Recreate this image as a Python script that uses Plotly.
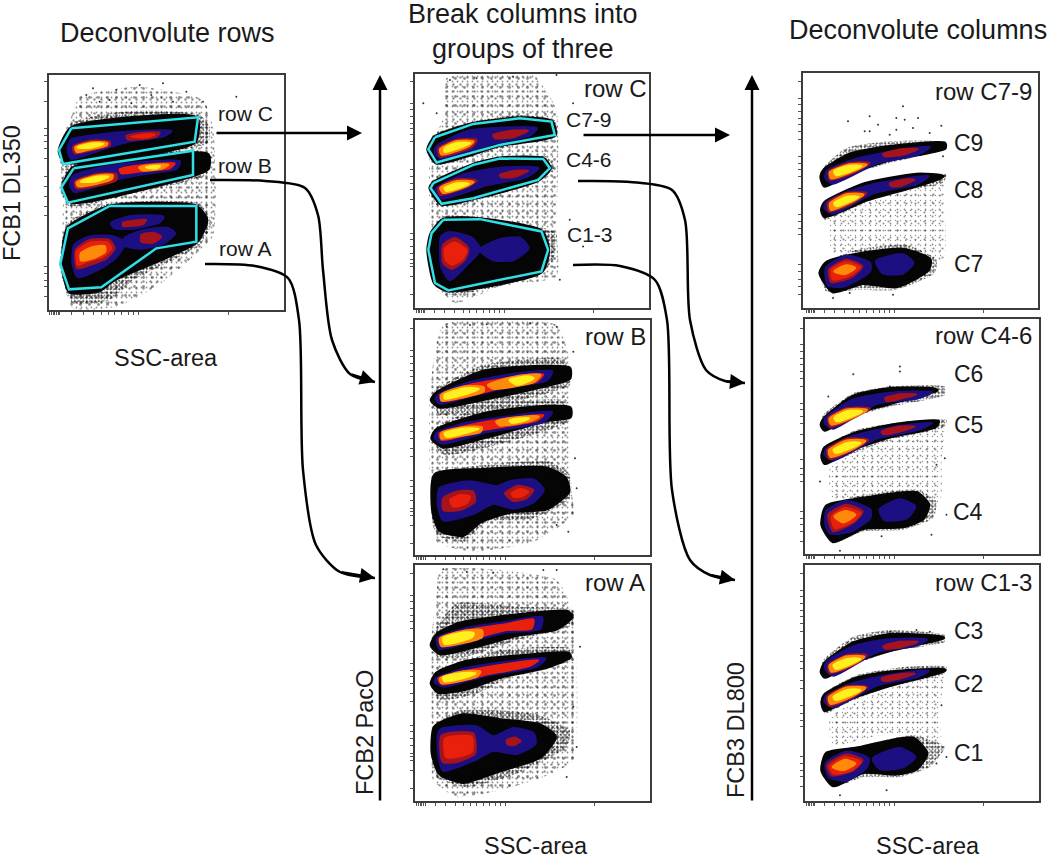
import plotly.graph_objects as go

W, H = 1050, 865

# ---- panel frames in figure pixels (left, right, top, bottom), and axis ranges in event-scale units
p1_box = (49, 284, 75, 310)
p2_box = (415, 649, 74, 308)
p3_box = (415, 650, 320, 555)
p4_box = (415, 650, 565, 801)
p5_box = (803, 1038, 73, 308)
p6_box = (805, 1039, 319, 554)
p7_box = (805, 1039, 565, 801)

p1_range = (148, 853, 750, 45)
p2_range = (45, 748, 745, 42)
p3_range = (45, 750, 720, 15)
p4_range = (45, 750, 722, 15)
p5_range = (40, 745, 745, 40)
p6_range = (45, 748, 718, 12)
p7_range = (45, 748, 722, 15)

xticks_p1 = [150,155,160,165,170,175,180,215,250,280,305,325,345,365,385,400,415,685]
xticks_rest = [50,55,60,65,70,75,105,135,165,190,210,230,250,268,285,300,315,582]
yticks_p1 = [65,125,205,225,245,265,295,350,380,410,440,465,620,640,660,680,710]
yticks_p2 = [65,130,150,170,190,205,225,245,330,350,370,390,420,445,520,540,560,580,600,610,620,650,705]
yticks_p3 = [40,105,125,145,165,185,205,245,310,330,350,370,400,425,495,515,535,555,580,590,600,630,685]
yticks_p5 = [65,115,135,155,175,195,215,240,290,310,330,350,385,410,465,485,505,525,615,635,660,680,705]
yticks_p6 = [40,90,110,130,150,170,190,215,265,285,305,325,360,385,435,460,480,500,590,610,630,650,680]

# ---- density regions of each panel
p1_sparse = [[(240,110),(420,80),(610,120),(640,200),(640,530),(570,600),(470,680),(350,740),(220,745),(190,660),(190,400),(180,260),(215,170)]]
p1_dense = [[(215,190),(300,165),(430,150),(600,165),(630,200),(625,250),(400,290),(190,320),(175,270)],
            [(215,310),(600,270),(635,290),(620,345),(400,400),(210,440),(180,385)],
            [(215,480),(330,430),(600,430),(635,490),(600,555),(400,660),(330,720),(220,730),(180,620),(195,505)]]
p1_black = [[(215,205),(590,175),(585,245),(200,305),(180,275)],
            [(220,325),(580,280),(625,285),(625,325),(580,345),(215,425),(190,385)],
            [(330,440),(590,440),(620,480),(590,545),(340,660),(300,690),(210,695),(190,610),(205,505)]]
p1_navy = [[(215,240),(300,225),(400,215),(515,213),(490,228),(380,245),(300,270),(215,295),(205,265)],
           [(220,350),(300,325),(400,310),(540,305),(530,325),(440,340),(360,355),(225,395),(212,375)],
           [(225,555),(270,530),(340,530),(375,548),(350,590),(310,620),(235,650),(220,610)],
           [(375,535),(440,510),(505,505),(525,520),(490,550),(420,565),(375,555)],
           [(335,490),(390,470),(490,470),(480,485),(400,505),(345,503)]]
p1_crimson = [[(220,260),(270,242),(330,245),(330,258),(270,272),(225,280)],
              [(380,228),(430,218),(480,218),(470,230),(420,238),(385,238)],
              [(225,365),(290,342),(350,342),(350,360),(230,385)],
              [(228,570),(270,540),(330,540),(345,565),(320,595),(270,615),(232,625)],
              [(425,525),(460,518),(485,530),(460,548),(425,545)],
              [(370,488),(440,480),(430,492),(370,498)]]
p1_red = [[(395,230),(450,222),(465,224),(440,232)],
          [(360,328),(430,315),(525,310),(510,325),(440,332),(365,340)],
          [(232,575),(270,548),(325,548),(335,565),(310,590),(260,605),(235,615)]]
p1_orange = [[(228,262),(275,248),(322,250),(320,255),(270,267),(232,275)],
             [(232,368),(290,348),(338,346),(335,357),(236,378)],
             [(420,322),(470,315),(505,315),(480,326),(430,330)],
             [(245,580),(280,562),(315,560),(315,575),(275,595),(245,600)]]
p1_yellow = [[(235,262),(275,252),(310,252),(270,262)],
             [(245,365),(290,352),(325,350),(290,362)],
             [(440,322),(480,318),(470,324)]]
p1_outliers = [(260,105),(300,125),(350,90),(420,75),(490,70),(610,125),(330,120),(455,105),(560,95),(280,85),(710,110),(395,130),(520,125)]

p2_sparse = [[(140,55),(400,45),(470,150),(470,500),(470,650),(300,680),(170,730),(110,690),(90,500),(90,280),(130,170)]]
p2_dense = [[(100,225),(220,185),(360,165),(465,180),(470,225),(300,265),(110,315),(80,270)],
            [(100,360),(230,310),(440,290),(465,325),(420,360),(220,425),(115,440),(85,385)],
            [(130,470),(430,505),(470,520),(460,600),(420,645),(150,705),(100,670),(85,560)]]
p2_black = [[(105,232),(220,192),(360,175),(455,185),(465,225),(300,255),(110,308),(85,268)],
            [(100,370),(220,315),(300,296),(430,297),(450,325),(415,360),(220,415),(125,432),(92,385)],
            [(130,480),(240,478),(425,515),(445,570),(425,635),(145,692),(105,670),(85,570),(95,520)]]
p2_navy = [[(110,260),(200,215),(300,205),(410,205),(390,225),(280,250),(120,295),(105,275)],
           [(110,385),(190,345),(300,325),(415,325),(380,350),(260,375),(130,415),(105,400)],
           [(125,530),(150,518),(215,535),(240,570),(205,610),(150,660),(125,620)],
           [(240,570),(300,540),(360,535),(385,565),(340,600),(280,600)]]
p2_crimson = [[(115,265),(170,240),(230,240),(215,262),(120,290)],
              [(280,225),(340,212),(385,212),(340,232),(285,235)],
              [(115,385),(170,358),(230,362),(200,382),(120,405)],
              [(300,345),(345,333),(385,333),(340,352),(305,352)],
              [(130,555),(165,535),(205,565),(195,600),(155,628),(130,610)]]
p2_red = [[(135,565),(165,548),(200,572),(185,600),(155,615),(137,600)]]
p2_orange = [[(122,268),(170,245),(220,245),(205,258),(125,283)],
             [(122,385),(170,365),(220,367),(190,382),(130,398)]]
p2_yellow = [[(135,265),(175,250),(210,250),(170,265),(135,275)],
             [(135,385),(170,372),(205,372),(140,392)]]
p2_outliers = [(150,60),(230,55),(340,50),(470,45),(520,130),(510,480),(550,560),(110,160),(480,660),(70,130)]

p3_sparse = [[(130,30),(470,30),(510,140),(510,500),(520,600),(400,680),(220,710),(110,680),(90,500),(90,230)]]
p3_dense = [[(105,225),(250,150),(480,130),(512,160),(510,210),(250,280),(120,300),(92,260)],
            [(105,340),(250,270),(490,255),(512,285),(505,320),(250,400),(130,420),(95,370)],
            [(100,480),(250,450),(450,440),(510,480),(510,550),(400,610),(260,620),(190,680),(110,660),(95,600)]]
p3_black = [[(110,235),(250,170),(440,155),(508,160),(508,190),(440,210),(260,250),(120,275),(95,255)],
            [(110,345),(260,295),(440,275),(510,280),(510,305),(440,315),(260,365),(130,395),(97,370)],
            [(105,480),(250,465),(440,460),(495,490),(505,530),(440,580),(330,590),(240,620),(190,660),(120,645),(100,590)]]
p3_navy = [[(115,240),(200,205),(330,180),(455,170),(440,195),(330,215),(220,240),(120,265),(108,250)],
           [(110,355),(200,325),(330,305),(455,292),(430,320),(260,350),(130,385),(105,370)],
           [(120,520),(210,500),(290,515),(330,500),(400,495),(430,525),(400,560),(340,580),(280,565),(220,595),(130,615),(115,570)]]
p3_crimson = [[(130,550),(170,530),(220,530),(225,560),(180,585),(130,585)],
              [(315,535),(355,512),(400,525),(380,550),(340,558)]]
p3_red = [[(120,240),(200,212),(330,188),(430,178),(410,200),(300,220),(130,258)],
          [(118,355),(200,332),(330,310),(430,300),(410,317),(250,345),(125,375)],
          [(150,555),(180,540),(210,545),(200,565),(160,575)],
          [(335,535),(360,522),(385,530),(365,545),(340,545)]]
p3_orange = [[(125,240),(195,215),(250,218),(250,228),(190,245),(125,256)],
             [(265,210),(350,185),(420,180),(400,200),(280,220)],
             [(125,355),(190,338),(245,338),(240,350),(190,360),(125,370)],
             [(290,320),(350,308),(415,305),(390,317),(300,330)]]
p3_yellow = [[(135,240),(190,222),(235,222),(190,238),(135,250)],
             [(330,195),(385,185),(400,190),(350,208)],
             [(135,355),(190,342),(235,342),(190,354),(140,364)],
             [(330,317),(385,310),(370,316),(335,322)]]
p3_outliers = [(140,35),(210,30),(260,28),(390,25),(470,35),(520,110),(525,430),(530,520),(505,650),(470,630)]

p4_sparse = [[(120,30),(300,30),(470,60),(520,160),(520,600),(430,650),(300,690),(170,710),(100,660),(95,500),(95,230),(110,100)]]
p4_dense = [[(110,200),(170,130),(350,140),(520,150),(515,195),(350,240),(200,290),(110,290),(95,250)],
            [(110,340),(300,270),(510,265),(515,300),(350,340),(230,400),(115,420),(95,370)],
            [(110,490),(180,450),(400,460),(510,510),(500,560),(350,640),(200,680),(110,650),(95,580)]]
p4_black = [[(110,225),(180,190),(360,165),(500,155),(515,170),(470,205),(350,225),(220,260),(120,280),(95,255)],
            [(110,340),(200,305),(400,285),(505,280),(510,290),(440,320),(300,350),(200,385),(115,395),(95,370)],
            [(105,500),(190,465),(300,480),(420,495),(465,530),(420,590),(300,630),(190,665),(120,640),(98,580)]]
p4_navy = [[(112,235),(200,205),(330,185),(425,172),(420,205),(320,215),(240,235),(120,265)],
           [(110,355),(200,325),(330,305),(435,295),(410,318),(260,345),(130,378),(105,365)],
           [(120,510),(230,500),(280,530),(340,505),(400,520),(405,550),(350,580),(280,570),(220,600),(130,630),(115,570)]]
p4_crimson = [[(125,525),(220,520),(225,580),(170,605),(128,605)],
              [(320,540),(345,532),(362,542),(340,555),(322,552)]]
p4_red = [[(118,235),(200,210),(330,190),(400,178),(395,205),(320,210),(240,230),(125,258)],
          [(115,355),(200,332),(330,310),(415,300),(390,317),(250,345),(125,372)],
          [(135,535),(215,530),(215,575),(170,590),(138,590)]]
p4_orange = [[(122,235),(200,212),(245,212),(245,230),(125,256)],
             [(122,355),(190,335),(240,335),(230,348),(125,368)]]
p4_yellow = [[(130,235),(195,218),(220,220),(215,230),(135,250)],
             [(130,352),(190,340),(225,340),(190,352),(135,362)]]
p4_outliers = [(130,28),(200,35),(280,38),(430,30),(470,30),(520,440),(530,560),(500,650),(540,260)]

p5_sparse = [[(120,480),(300,405),(460,350),(465,440),(460,600),(300,560),(130,580)]]
p5_dense = [[(105,320),(170,265),(300,245),(468,248),(465,268),(300,310),(180,345),(105,380),(95,350)],
            [(100,440),(220,370),(400,340),(470,345),(460,370),(300,400),(180,450),(105,480),(95,460)],
            [(105,610),(200,570),(350,555),(440,600),(435,640),(320,690),(200,690),(110,695),(90,640)]]
p5_black = [[(105,330),(180,285),(300,262),(465,252),(465,265),(300,300),(180,340),(105,378),(95,350)],
            [(105,430),(220,375),(380,345),(460,350),(380,378),(230,420),(105,470),(97,450)],
            [(110,610),(200,585),(340,570),(420,600),(415,630),(320,680),(220,670),(130,695),(92,640)]]
p5_navy = [[(112,335),(180,305),(260,285),(420,262),(380,285),(260,310),(130,370),(108,355)],
           [(110,430),(170,400),(250,375),(415,350),(380,372),(250,400),(130,460),(105,445)],
           [(110,625),(170,590),(240,610),(240,635),(160,680),(115,675)],
           [(260,605),(340,585),(370,610),(340,640),(280,640)]]
p5_crimson = [[(118,335),(180,310),(240,310),(190,340),(120,360)],
              [(280,283),(340,268),(385,268),(340,285),(285,290)],
              [(115,430),(170,400),(230,400),(190,430),(118,455)],
              [(300,372),(340,360),(375,360),(335,378),(305,380)],
              [(118,630),(170,600),(218,620),(190,650),(125,668)]]
p5_red = [[(125,630),(170,608),(212,622),(180,648),(130,660)]]
p5_orange = [[(122,338),(180,315),(230,315),(180,338),(125,355)],
             [(122,432),(170,405),(220,405),(180,428),(125,450)],
             [(135,635),(170,618),(195,625),(165,642)]]
p5_yellow = [[(135,335),(180,320),(215,320),(140,345)],
             [(135,430),(175,412),(205,412),(140,438)]]
p5_outliers = [(175,185),(240,170),(340,140),(320,175),(385,175),(455,198),(225,215),(265,195),(320,210),(370,205),(345,180),(240,215),(300,225),(420,220),(460,290),(130,715),(310,705),(180,700)]

p6_sparse = [[(120,460),(300,375),(460,335),(455,440),(450,560),(300,530),(130,560)]]
p6_dense = [[(100,300),(190,235),(300,215),(465,215),(465,240),(300,275),(180,310),(105,350),(93,330)],
            [(100,400),(200,345),(350,320),(470,315),(465,335),(300,375),(180,420),(105,450),(90,430)],
            [(100,580),(200,545),(380,525),(440,560),(430,610),(340,645),(220,650),(130,685),(92,630)]]
p6_black = [[(105,310),(190,245),(300,222),(440,225),(300,265),(180,300),(105,345),(95,330)],
            [(105,400),(200,355),(320,330),(445,320),(435,335),(300,365),(180,405),(105,445),(97,425)],
            [(110,575),(200,555),(380,535),(415,570),(400,610),(340,635),(220,640),(130,680),(97,630)]]
p6_navy = [[(108,310),(190,255),(300,235),(425,232),(380,250),(260,265),(130,340),(105,325)],
           [(108,405),(190,365),(300,340),(425,325),(380,345),(260,370),(130,435),(105,420)],
           [(110,590),(170,560),(240,585),(240,610),(180,650),(120,655),(108,630)],
           [(270,585),(330,555),(375,575),(350,610),(285,615)]]
p6_crimson = [[(115,310),(170,280),(240,280),(190,310),(120,335)],
              [(285,250),(330,238),(380,238),(330,252),(290,258)],
              [(112,405),(170,372),(235,375),(190,405),(118,432)],
              [(275,350),(330,335),(375,335),(330,350),(280,358)],
              [(115,600),(170,570),(218,590),(195,620),(130,650)]]
p6_red = [[(125,605),(165,580),(212,595),(190,620),(135,640)]]
p6_orange = [[(120,312),(170,285),(230,285),(185,308),(125,328)],
             [(118,407),(170,378),(225,378),(185,403),(122,425)],
             [(135,605),(165,590),(195,600),(160,622)]]
p6_yellow = [[(135,308),(175,290),(215,290),(140,318)],
             [(132,405),(175,385),(210,385),(138,413)]]
p6_outliers = [(330,155),(330,170),(190,178),(115,245),(300,215),(90,500),(440,450),(465,430),(470,600),(425,660),(150,708),(275,665)]

p7_sparse = [[(120,470),(300,385),(460,345),(450,440),(450,560),(300,520),(130,555)]]
p7_dense = [[(100,300),(190,230),(300,210),(465,225),(465,245),(300,275),(180,320),(105,355),(93,335)],
            [(100,400),(200,345),(350,320),(470,320),(465,340),(300,380),(180,425),(105,460),(92,430)],
            [(100,590),(200,560),(370,525),(465,560),(420,620),(330,650),(220,650),(130,680),(92,630)]]
p7_black = [[(105,310),(190,250),(300,225),(460,232),(300,270),(180,310),(105,350),(95,335)],
            [(105,405),(200,355),(320,335),(465,330),(300,375),(180,415),(105,450),(97,425)],
            [(110,580),(200,565),(370,535),(410,580),(380,625),(320,640),(220,635),(130,675),(97,630)]]
p7_navy = [[(108,310),(190,260),(290,240),(410,238),(380,255),(260,275),(130,345),(108,328)],
           [(108,410),(190,370),(300,345),(415,332),(380,350),(260,375),(130,440),(105,425)],
           [(108,610),(170,575),(235,595),(230,620),(170,660),(118,650)],
           [(250,595),(330,565),(375,590),(340,620),(270,625)]]
p7_crimson = [[(115,315),(170,285),(230,285),(190,315),(120,338)],
              [(280,258),(330,245),(385,245),(330,262),(285,265)],
              [(112,410),(170,378),(232,380),(190,410),(118,437)],
              [(275,355),(330,342),(375,340),(330,355),(280,362)],
              [(112,615),(170,582),(218,600),(190,630),(125,645)]]
p7_red = [[(120,618),(165,590),(212,605),(185,630),(130,640)]]
p7_orange = [[(120,317),(170,290),(222,290),(185,313),(125,333)],
             [(118,412),(170,383),(225,383),(185,408),(122,430)],
             [(130,620),(165,600),(195,610),(160,628)]]
p7_yellow = [[(132,315),(175,297),(210,297),(138,325)],
             [(132,410),(175,390),(210,390),(138,418)]]
p7_outliers = [(380,210),(300,215),(420,215),(355,235),(455,435),(470,590),(440,610),(150,705),(290,690),(225,240)]

# gates (cyan outlines)
p1_gates = [[(215,205),(595,172),(585,245),(190,312),(178,270),(215,205)],
            [(222,325),(580,272),(580,345),(205,428),(185,382),(222,325)],
            [(330,438),(590,438),(590,545),(470,565),(305,682),(208,688),(182,612),(205,505),(330,438)]]
p2_gates = [[(105,232),(220,192),(360,175),(455,185),(465,225),(300,255),(110,308),(85,268),(105,232)],
            [(100,370),(220,315),(300,296),(430,297),(450,325),(415,360),(220,415),(125,432),(92,385),(100,370)],
            [(130,480),(240,478),(425,515),(445,570),(425,635),(145,692),(105,670),(85,570),(95,520),(130,480)]]

# texts
panel_labels = [("row C",615,88),("row B",615,336),("row A",615,582),
                ("row C7-9",983,91),("row C4-6",983,335),("row C1-3",983,582)]
gate_labels = [("row C",245,113),("row B",245,165),("row A",245,248),
               ("C7-9",589,119),("C4-6",589,159),("C1-3",590,234),
               ("C9",968,143),("C8",968,190),("C7",968,264),("C6",968,374),("C5",968,425),
               ("C4",968,512),("C3",968,631),("C2",968,684),("C1",968,753)]
titles = [("Deconvolute rows",167,33),("Break columns into<br>groups of three",523,31),("Deconvolute columns",918,30)]
x_titles = [("SSC-area",166,358),("SSC-area",536,846),("SSC-area",928,846)]
y_titles = [("FCB1 DL350",12,193),("FCB2 PacO",365,733),("FCB3 DL800",736,730)]

# connector paths, in page scale
straight_arrows = [((215,133),(362,133)),((582,135),(730,135)),((380,802),(380,75)),((752,802),(752,75))]
curve_rowB = [(210,180),(265,181),(305,188),(318,215),(323,270),(332,340),(350,374),(375,382)]
curve_rowA = [(205,264),(255,266),(288,278),(299,320),(303,470),(316,545),(340,572),(375,578)]
curve_C46 = [(578,181),(630,182),(672,190),(685,220),(690,320),(706,370),(725,381),(745,383)]
curve_C13 = [(573,265),(620,266),(655,280),(667,320),(672,490),(690,560),(710,575),(735,580)]

# ---- styling
FILL = {"black":"#050505","navy":"#1c0f82","crimson":"#a5141c","red":"#e8200c","orange":"#ff8a0a","yellow":"#fff01e"}
STROKE = {"black":4,"navy":3,"crimson":2,"red":2,"orange":3,"yellow":3}
fig = go.Figure()
layout = dict(width=W, height=H, margin=dict(l=0,r=0,t=0,b=0), paper_bgcolor="white", plot_bgcolor="rgba(0,0,0,0)",
              showlegend=False, font=dict(family="Liberation Sans", color="#1a1a1a"))

def poly_xy(polys):
    xs, ys = [], []
    for p in polys:
        for a, b in p + [p[0]]:
            xs.append(a); ys.append(b)
        xs.append(None); ys.append(None)
    return xs, ys

panels = [
 (p1_box,p1_range,xticks_p1,yticks_p1,p1_sparse,p1_dense,p1_black,p1_navy,p1_crimson,p1_red,p1_orange,p1_yellow,p1_gates,p1_outliers,1.0),
 (p2_box,p2_range,xticks_rest,yticks_p2,p2_sparse,p2_dense,p2_black,p2_navy,p2_crimson,p2_red,p2_orange,p2_yellow,p2_gates,p2_outliers,1.0),
 (p3_box,p3_range,xticks_rest,yticks_p3,p3_sparse,p3_dense,p3_black,p3_navy,p3_crimson,p3_red,p3_orange,p3_yellow,None,p3_outliers,1.0),
 (p4_box,p4_range,xticks_rest,yticks_p3,p4_sparse,p4_dense,p4_black,p4_navy,p4_crimson,p4_red,p4_orange,p4_yellow,None,p4_outliers,1.0),
 (p5_box,p5_range,xticks_rest,yticks_p5,p5_sparse,p5_dense,p5_black,p5_navy,p5_crimson,p5_red,p5_orange,p5_yellow,None,p5_outliers,0.6),
 (p6_box,p6_range,xticks_rest,yticks_p6,p6_sparse,p6_dense,p6_black,p6_navy,p6_crimson,p6_red,p6_orange,p6_yellow,None,p6_outliers,0.6),
 (p7_box,p7_range,xticks_rest,yticks_p6,p7_sparse,p7_dense,p7_black,p7_navy,p7_crimson,p7_red,p7_orange,p7_yellow,None,p7_outliers,0.6),
]

def dots(polys, xa, ya, size, sol, color):
    x, y = poly_xy(polys)
    fig.add_trace(go.Scatter(x=x, y=y, xaxis=xa, yaxis=ya, mode="lines", fill="toself", hoverinfo="skip",
                             line=dict(width=0, shape="spline", smoothing=0.5), fillcolor="rgba(0,0,0,0)",
                             fillpattern=dict(shape=".", size=size, solidity=sol, fgcolor=color, bgcolor="rgba(255,255,255,0)")))

for i, (box, rng, xt, yt, sparse, dense, black, navy, crimson, red, orange, yellow, gates, outliers, amount) in enumerate(panels, 1):
    xa, ya = f"x{i}", f"y{i}"
    ln = dict(showline=True, mirror=True, linecolor="#3c3c3c", linewidth=2, showgrid=False, zeroline=False,
              ticks="outside", ticklen=3, tickwidth=1, tickcolor="#555", showticklabels=False)
    layout[f"xaxis{i}"] = dict(domain=[box[0]/W, box[1]/W], range=[rng[0], rng[1]], anchor=ya, tickvals=xt, **ln)
    layout[f"yaxis{i}"] = dict(domain=[1-box[3]/H, 1-box[2]/H], range=[rng[2], rng[3]], anchor=xa, tickvals=yt, **ln)
    fig.add_trace(go.Scatter(x=[p[0] for p in outliers], y=[p[1] for p in outliers], xaxis=xa, yaxis=ya, mode="markers",
                             hoverinfo="skip", marker=dict(size=2, color="#333")))
    for size, sol in ((5, 0.10), (7, 0.09), (9, 0.08)):
        dots(sparse, xa, ya, size, sol * amount, "#222")
    for size, sol in ((3, 0.28), (4, 0.24), (5, 0.2)):
        dots(dense, xa, ya, size, sol, "#111")
    for name, polys in (("black",black),("navy",navy),("crimson",crimson),("red",red),("orange",orange),("yellow",yellow)):
        x, y = poly_xy(polys)
        fig.add_trace(go.Scatter(x=x, y=y, xaxis=xa, yaxis=ya, mode="lines", fill="toself", hoverinfo="skip",
                                 line=dict(width=STROKE[name], color=FILL[name], shape="spline", smoothing=0.6), fillcolor=FILL[name]))
    if gates:
        gx, gy = [], []
        for g in gates:
            gx += [a for a,_ in g] + [None]; gy += [b for _,b in g] + [None]
        fig.add_trace(go.Scatter(x=gx, y=gy, xaxis=xa, yaxis=ya, mode="lines", hoverinfo="skip",
                                 line=dict(width=2.5, color="#2fe0e6")))

# page-scale overlay axis for connectors and captions
layout["xaxis8"] = dict(domain=[0,1], range=[0,W], visible=False, anchor="y8", fixedrange=True)
layout["yaxis8"] = dict(domain=[0,1], range=[H,0], visible=False, anchor="x8", fixedrange=True)

anns = []
def ann(t, x, y, size, **kw):
    anns.append(dict(text=t, x=x, y=y, xref="x8", yref="y8", showarrow=False, font=dict(size=size), **kw))

for t, x, y in titles: ann(t, x, y, 27)
for t, x, y in x_titles: ann(t, x, y, 23.5)
for t, x, y in y_titles: ann(t, x, y, 23.5, textangle=-90)
for t, x, y in panel_labels: ann(t, x, y, 24)
for t, x, y in gate_labels: ann(t, x, y, 23 if len(t) == 2 else 21)

for c in (curve_rowB, curve_rowA, curve_C46, curve_C13):
    fig.add_trace(go.Scatter(x=[p[0] for p in c], y=[p[1] for p in c], xaxis="x8", yaxis="y8", mode="lines",
                             hoverinfo="skip", line=dict(color="black", width=2.5, shape="spline", smoothing=0.8)))
    anns.append(dict(x=c[-1][0], y=c[-1][1], ax=c[-2][0], ay=c[-2][1], xref="x8", yref="y8", axref="x8", ayref="y8",
                     text="", showarrow=True, arrowhead=2, arrowsize=1.2, arrowwidth=2.5, arrowcolor="black"))
for a, b in straight_arrows:
    anns.append(dict(x=b[0], y=b[1], ax=a[0], ay=a[1], xref="x8", yref="y8", axref="x8", ayref="y8",
                     text="", showarrow=True, arrowhead=2, arrowsize=1.2, arrowwidth=2.5, arrowcolor="black"))

layout["annotations"] = anns
fig.update_layout(**layout)
fig.write_html("out.html", config={"displayModeBar": False}, post_script="document.body.style.margin='0';")
